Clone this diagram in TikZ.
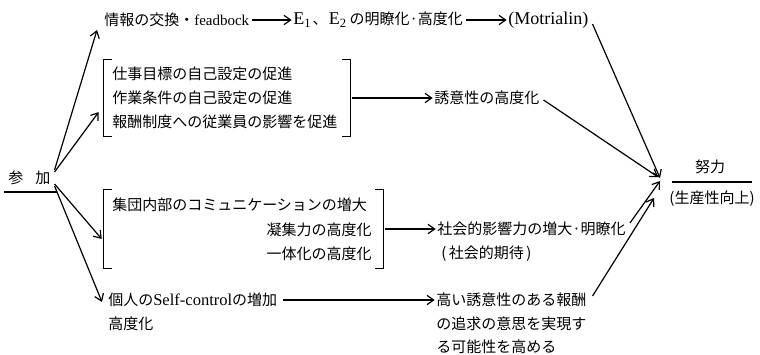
\documentclass[tikz,border=0pt]{standalone}
\usepackage{fontspec}
\setmainfont{Noto Sans CJK JP}
\newfontfamily\lat{Liberation Serif}[Scale=1.2]
\newfontfamily\latn{Liberation Serif}
\usetikzlibrary{arrows.meta,calc,fit}
\begin{document}
\begin{tikzpicture}[x=0.75pt,y=-0.75pt,
  txt/.style={inner sep=0pt,anchor=west,font=\fontsize{11.25pt}{13pt}\selectfont},
  ctxt/.style={inner sep=0pt,font=\fontsize{11.25pt}{13pt}\selectfont},
  ln/.style={line width=0.9pt},
  arr/.style={line width=0.9pt,-{Straight Barb[length=5pt,width=7pt,line width=0.9pt]}},
  bfit/.style={inner sep=0pt,draw=none}]
\useasboundingbox (0,0) rectangle (760,354);
% row 1
\node[txt] (info) at (104,20) {情報の交換・{\latn feadbock}};
\node[txt] (e12) at (293,20) {{\lat E\textsubscript{1}}\hspace{1pt}、\hspace{1pt}{\lat E\textsubscript{2}}\hspace{2pt}の明瞭化·高度化};
\node[txt] (mot) at (508,20) {\lat (Motrialin)};
\draw[arr,shorten <=2pt,shorten >=1pt] (info.east) -- (e12.west);
\draw[arr,shorten <=2pt,shorten >=1pt] (e12.east) -- (mot.west);
% bracket 1
\coordinate (b1a) at (104,60);
\coordinate (b1b) at (350,136);
\node[bfit,fit=(b1a)(b1b)] (br1) {};
\draw[ln] ($(br1.north west)+(8,0)$) -- (br1.north west) -- (br1.south west) -- ++(8,0);
\draw[ln] ($(br1.north east)+(-8,0)$) -- (br1.north east) -- (br1.south east) -- ++(-8,0);
\node[txt] (g1) at (112,74) {仕事目標の自己設定の促進};
\node[txt] (g2) at (112,98) {作業条件の自己設定の促進};
\node[txt] (g3) at (112,122) {報酬制度への従業員の影響を促進};
\node[txt] (yui) at (434,98) {誘意性の高度化};
\draw[arr,shorten <=1pt,shorten >=1pt] (br1.east) -- (yui.west);
% sanka
\node[txt] (sanka) at (8,178) {参\hspace{9pt}加};
\draw[ln] (4,192) -- (57,192);
% bracket 2
\coordinate (b2a) at (104,190);
\coordinate (b2b) at (383,268);
\node[bfit,fit=(b2a)(b2b)] (br2) {};
\draw[ln] ($(br2.north west)+(8,0)$) -- (br2.north west) -- (br2.south west) -- ++(8,0);
\draw[ln] ($(br2.north east)+(-8,0)$) -- (br2.north east) -- (br2.south east) -- ++(-8,0);
\node[txt] (h1) at (112,205) {集団内部のコミュニケーションの増大};
\node[ctxt,anchor=east] (h2) at (372,230) {凝集力の高度化};
\node[ctxt,anchor=east] (h3) at (372,254) {一体化の高度化};
\node[txt] (sha) at (437,229) {社会的影響力の増大·明瞭化};
\node[txt] (kit) at (441,254) {(\,社会的期待\,)};
\draw[arr,shorten <=1pt,shorten >=1pt] (br2.east) -- (sha.west);
% bottom
\node[txt] (ko) at (108,300) {個人の{\latn\fontsize{12.4pt}{13pt}\selectfont Self-control}の増加};
\node[txt] (ko2) at (108,324) {高度化};
\node[txt] (k1) at (436,300) {高い誘意性のある報酬};
\node[txt] (k2) at (436,324) {の追求の意思を実現す};
\node[txt] (k3) at (436,347) {る可能性を高める};
\draw[arr,shorten <=4pt,shorten >=1pt] (ko.east) -- (k1.west);
% arrows from sanka
\draw[arr] ($(sanka.east)+(4,-8)$) -- ($(info.west)+(-7,10)$);
\draw[arr] ($(sanka.east)+(4,-6)$) -- ($(br1.west)+(-5,14)$);
\draw[arr] ($(sanka.east)+(4,6)$) -- ($(br2.west)+(-2,10)$);
\draw[arr] ($(sanka.east)+(4,8)$) -- ($(ko.west)+(-6,2)$);
% goal
\coordinate (goal) at (660,178);
\node[ctxt] (dr) at (710,167) {努力};
\draw[ln] (672,182) -- (752,182);
\node[ctxt] (sei) at (712,199) {(生産性向上)};
\draw[arr] ($(mot.east)+(4,4)$) -- (goal);
\draw[arr] ($(yui.east)+(4,2)$) -- ($(goal)+(-2,-1)$);
\draw[arr] ($(sha.east)+(4,-6)$) -- ($(goal)+(0,3)$);
\draw[arr] ($(k1.east)+(6,-4)$) -- ($(goal)+(-6,20)$);
\end{tikzpicture}
\end{document}
